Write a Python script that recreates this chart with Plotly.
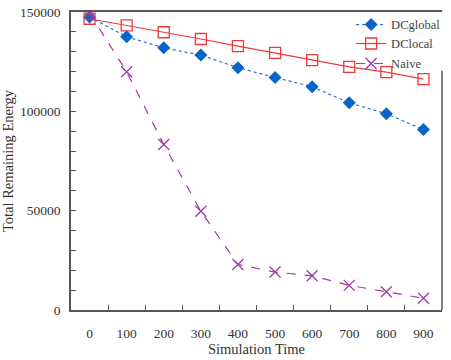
import plotly.graph_objects as go

times = ["0", "100", "200", "300", "400", "500", "600", "700", "800", "900"]
dc_global = [147500, 137500, 132000, 128300, 122000, 117000, 112400, 104300, 98800, 90800]
dc_local = [146600, 143300, 139800, 136400, 132800, 129400, 125800, 122400, 119700, 116200]
naive = [149500, 119900, 83300, 49700, 22900, 19100, 17200, 12400, 9200, 5900]

font_family = "Liberation Serif, Times New Roman, serif"
frame = "#555555"

fig = go.Figure()
fig.add_trace(go.Scatter(
    x=times, y=dc_global, name="DCglobal", mode="lines+markers", legend="legend",
    line=dict(color="#2a73c9", width=1.2, dash="dot"),
    marker=dict(symbol="diamond", size=10, color="#0a63c8"),
))
fig.add_trace(go.Scatter(
    x=times, y=dc_local, name="DClocal", mode="lines+markers", legend="legend2",
    line=dict(color="#f0393a", width=1.2),
    marker=dict(symbol="square-open", size=11, color="#f0393a", line=dict(width=1.3)),
))
fig.add_trace(go.Scatter(
    x=times, y=naive, name="Naive", mode="lines+markers", legend="legend3",
    line=dict(color="#a13aa3", width=1.2, dash="dash"),
    marker=dict(symbol="x-thin-open", size=11, color="#a13aa3", line=dict(width=1.3, color="#a13aa3")),
))

leg_font = dict(family=font_family, size=12.5, color="#444444")
def leg(y):
    return dict(x=0.755, y=y, xanchor="left", yanchor="middle", bgcolor="rgba(255,255,255,0)",
                borderwidth=0, font=leg_font, itemwidth=30)

fig.update_layout(
    width=451, height=360,
    margin=dict(l=66, r=5, t=11, b=50),
    paper_bgcolor="white", plot_bgcolor="white",
    font=dict(family=font_family, size=13.5, color="#333333"),
    showlegend=True,
    legend=leg(0.9565),
    legend2=leg(0.893),
    legend3=leg(0.826),
    shapes=[dict(type="line", xref="paper", yref="paper", x0=1, x1=1, y0=0, y1=0.803,
                 line=dict(color=frame, width=1.5))],
)
fig.update_xaxes(
    type="category", range=[-0.5, 9.5],
    tickson="boundaries", ticks="inside", ticklen=5, tickcolor=frame,
    showline=True, linecolor=frame, linewidth=1.5, mirror=True,
    showgrid=False, zeroline=False,
    ticklabelstandoff=10,
    title=dict(text="Simulation Time", font=dict(family=font_family, size=14.5, color="#333333"), standoff=1),
)
fig.update_yaxes(
    range=[0, 150000], tickvals=[0, 50000, 100000, 150000],
    ticktext=["0", "50000", "100000", "150000"],
    ticks="inside", ticklen=5, tickcolor=frame,
    minor=dict(dtick=10000, ticks="inside", ticklen=5, tickcolor=frame, showgrid=False),
    showline=True, linecolor=frame, linewidth=1.5, mirror=False,
    showgrid=False, zeroline=False,
    ticklabelstandoff=6,
    title=dict(text="Total Remaining Energy", font=dict(family=font_family, size=14.5, color="#333333"), standoff=5),
)

fig.write_html("out.html")
